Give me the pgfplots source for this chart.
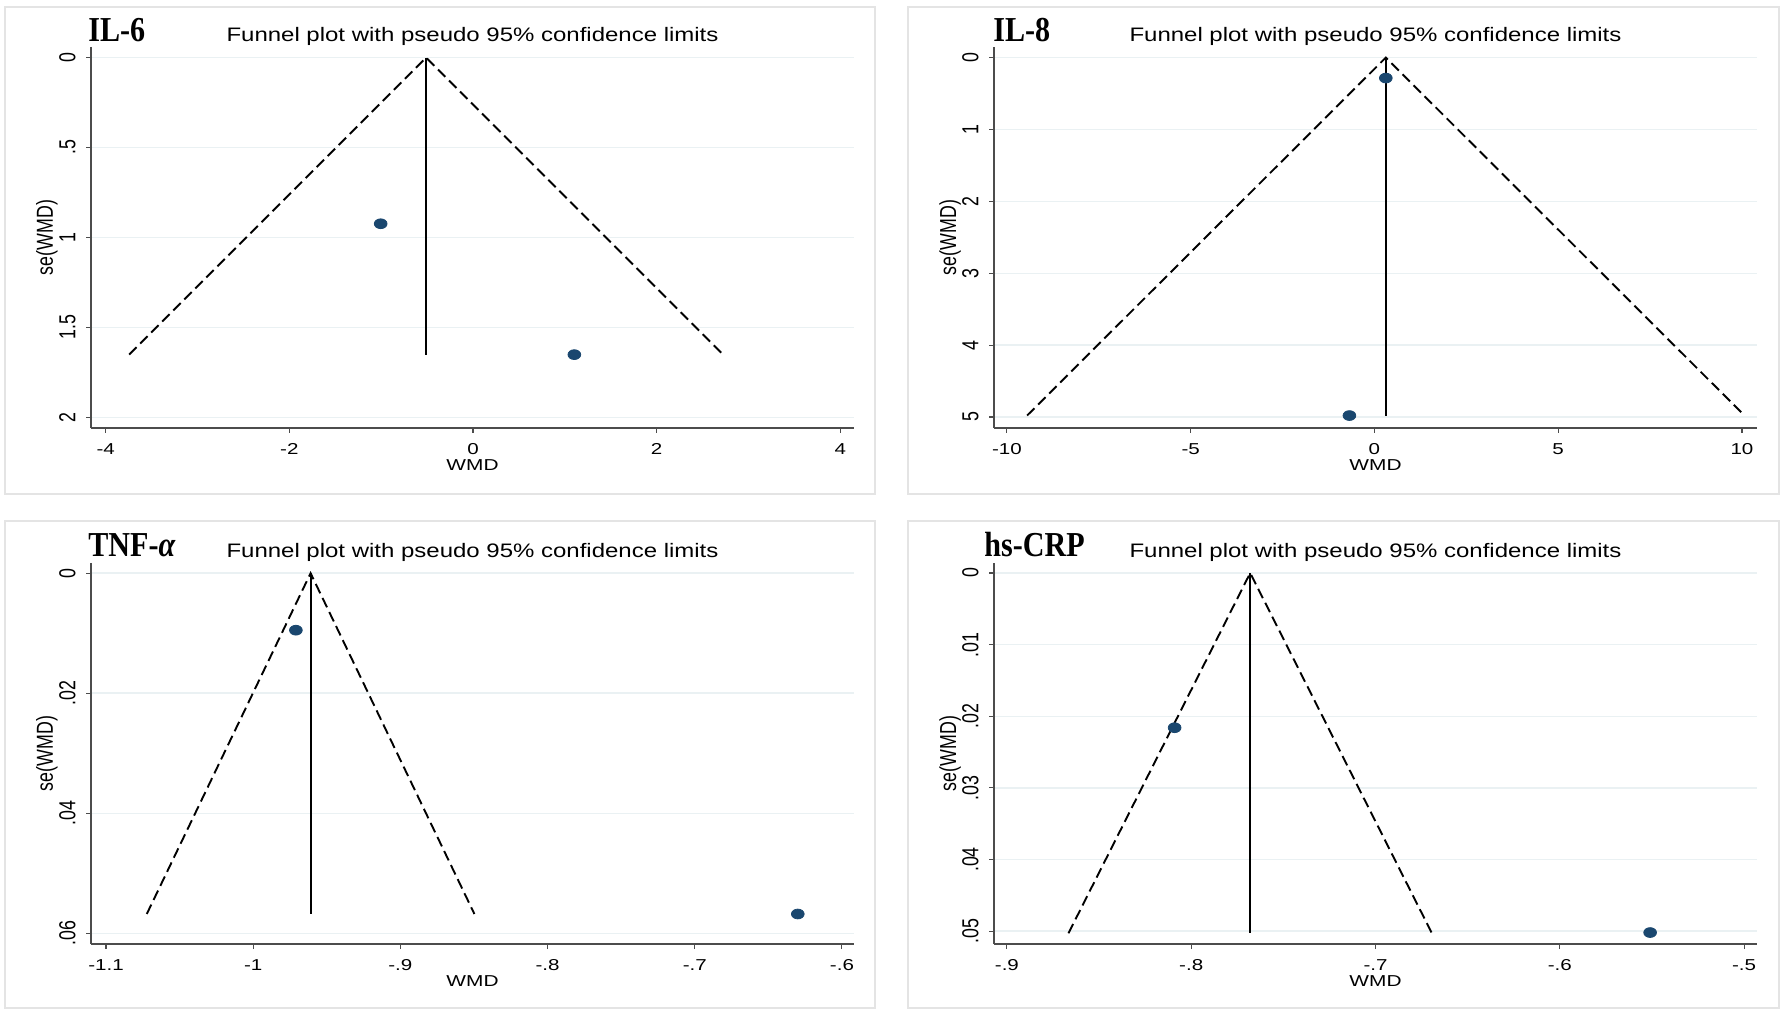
\documentclass[border=0pt]{standalone}
\usepackage{pgfplots}
\pgfplotsset{compat=1.18}
\usepackage{fontspec}
\setmainfont{Liberation Sans}
\newfontfamily\serifb{Liberation Serif}
\definecolor{navy}{RGB}{26,71,111}
\definecolor{gridc}{RGB}{234,241,243}
\definecolor{borderc}{RGB}{228,228,228}
\newcommand\tickfont{\fontsize{7.9}{9}\selectfont}
\newcommand\ytickfont{\fontsize{8.9}{10}\selectfont}
\newcommand\titfont{\fontsize{9.75}{11}\selectfont}
\newcommand\panfont{\serifb\bfseries\fontsize{17.5}{20}\selectfont}
\pgfplotsset{
  funnel/.style={
    scale only axis, width=381.5pt, height=190.5pt,
    y dir=reverse, axis x line*=bottom, axis y line*=left,
    axis line style={black!70, line width=0.55pt},
    tick style={black!70, line width=0.55pt},
    major tick length=2.5pt, tick align=outside,
    ymajorgrids, grid style={gridc, line width=0.7pt},
    scaled y ticks=false, scaled x ticks=false,
    xticklabel style={font=\tickfont, anchor=base, yshift=-10.9pt, xscale=1.3},
    yticklabel style={font=\ytickfont, xshift=-5.3pt, rotate=90, yscale=1.3, anchor=base},
    clip=false, enlargelimits=false,
  },
  fl/.style={black, line width=0.95pt, dash pattern=on 5.2pt off 2.6pt},
  vl/.style={black, line width=0.95pt},
  pts/.style={only marks, mark=*, mark size=2.45pt, mark options={fill=navy, draw=navy, xscale=1.3}},
}
\begin{document}
\begin{tikzpicture}
\path[use as bounding box] (0,0) rectangle (893pt,508pt);
\fill[white] (0,0) rectangle (893pt,508pt);
\draw[borderc, line width=0.6pt] (2.5pt,261pt) rectangle (437.5pt,504.5pt);
\draw[borderc, line width=0.6pt] (454pt,261pt) rectangle (889.5pt,504.5pt);
\draw[borderc, line width=0.6pt] (2.5pt,4pt) rectangle (437.5pt,247.5pt);
\draw[borderc, line width=0.6pt] (454pt,4pt) rectangle (889.5pt,247.5pt);

% ---------- IL-6
\begin{axis}[funnel, name=a1, at={(45.5pt,294pt)}, anchor=south west,
  xmin=-4.16, xmax=4.15, ymin=-0.059, ymax=2.06,
  xtick={-4,-2,0,2,4}, xticklabels={-4,-2,0,2,4},
  ytick={0,0.5,1,1.5,2}, yticklabels={0,.5,1,1.5,2}]
\addplot[fl] coordinates {(-3.744,1.652) (-0.51,0) (2.724,1.652)};
\addplot[vl] coordinates {(-0.51,0) (-0.51,1.652)};
\addplot[pts] coordinates {(-1.005,0.924) (1.104,1.652)};
\end{axis}

% ---------- IL-8
\begin{axis}[funnel, name=a2, at={(497pt,294pt)}, anchor=south west,
  xmin=-10.35, xmax=10.41, ymin=-0.147, ymax=5.153,
  xtick={-10,-5,0,5,10}, xticklabels={-10,-5,0,5,10},
  ytick={0,1,2,3,4,5}, yticklabels={0,1,2,3,4,5}]
\addplot[fl] coordinates {(-9.45,4.98) (0.31,0) (10.07,4.98)};
\addplot[vl] coordinates {(0.31,0) (0.31,4.98)};
\addplot[pts] coordinates {(0.31,0.285) (-0.68,4.98)};
\end{axis}

% ---------- TNF-alpha
\begin{axis}[funnel, name=a3, at={(45.5pt,36pt)}, anchor=south west,
  xmin=-1.1102, xmax=-0.5918, ymin=-0.0017, ymax=0.0618,
  xtick={-1.1,-1,-0.9,-0.8,-0.7,-0.6}, xticklabels={-1.1,-1,-.9,-.8,-.7,-.6},
  ytick={0,0.02,0.04,0.06}, yticklabels={0,.02,.04,.06}]
\addplot[fl] coordinates {(-1.0723,0.0568) (-0.961,0) (-0.8497,0.0568)};
\addplot[vl] coordinates {(-0.961,0) (-0.961,0.0568)};
\addplot[pts] coordinates {(-0.971,0.0095) (-0.630,0.0568)};
\end{axis}

% ---------- hs-CRP
\begin{axis}[funnel, name=a4, at={(497pt,36pt)}, anchor=south west,
  xmin=-0.907, xmax=-0.493, ymin=-0.0014, ymax=0.0518,
  xtick={-0.9,-0.8,-0.7,-0.6,-0.5}, xticklabels={-.9,-.8,-.7,-.6,-.5},
  ytick={0,0.01,0.02,0.03,0.04,0.05}, yticklabels={0,.01,.02,.03,.04,.05}]
\addplot[fl] coordinates {(-0.8666,0.0503) (-0.768,0) (-0.6694,0.0503)};
\addplot[vl] coordinates {(-0.768,0) (-0.768,0.0503)};
\addplot[pts] coordinates {(-0.809,0.0216) (-0.551,0.0502)};
\end{axis}

% ---------- texts
\foreach \a in {a1,a2,a3,a4}{
  \node[font=\titfont, anchor=base, xscale=1.23] at ([yshift=2.5pt]\a.north) {Funnel plot with pseudo 95\% confidence limits};
  \node[font=\tickfont, anchor=base, xscale=1.32] at ([yshift=-21.2pt]\a.south) {WMD};
  \node[font=\ytickfont, rotate=90, yscale=1.3] at ([xshift=-22pt]\a.west) {se(WMD)};
}
\node[font=\panfont, anchor=base west, inner sep=0pt, xscale=0.86] at ([xshift=-1.5pt,yshift=2.5pt]a1.north west) {IL-6};
\node[font=\panfont, anchor=base west, inner sep=0pt, xscale=0.86] at ([xshift=-0.5pt,yshift=2.5pt]a2.north west) {IL-8};
\node[font=\panfont, anchor=base west, inner sep=0pt, xscale=0.86] at ([xshift=-1.5pt,yshift=3pt]a3.north west) {TNF-\textit{α}};
\node[font=\panfont, anchor=base west, inner sep=0pt, xscale=0.86] at ([xshift=-5pt,yshift=3pt]a4.north west) {hs-CRP};
\end{tikzpicture}
\end{document}
